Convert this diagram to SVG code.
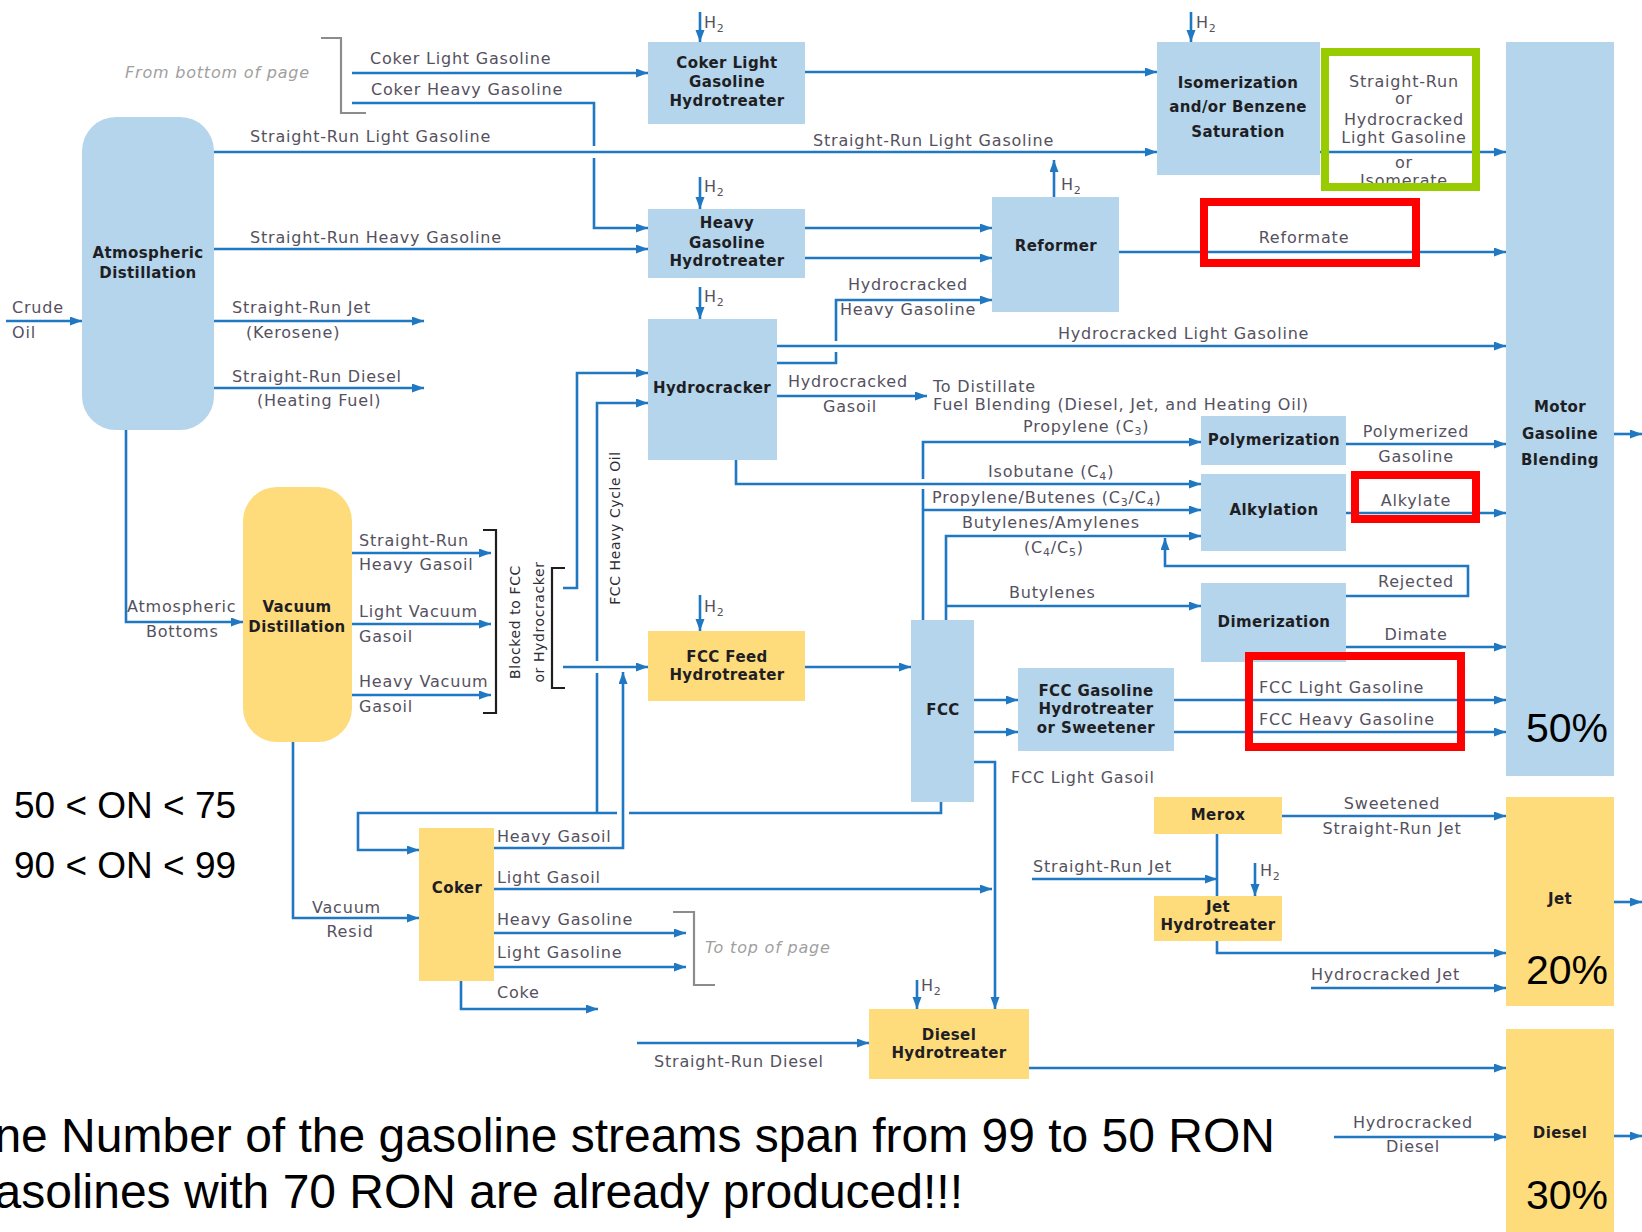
<svg xmlns="http://www.w3.org/2000/svg" width="1642" height="1232" viewBox="0 0 1642 1232">
  <style>
    .blue { fill: #b4d5eb; }
    .yel { fill: #fedb7b; }
    .ln { fill: none; stroke: #1f78c1; stroke-width: 2.6; }
    .arr { marker-end: url(#ah); }
    .nt { font-family: "DejaVu Sans", sans-serif; font-weight: bold; font-size: 15px; letter-spacing: 0.4px; fill: #1e1e24; text-anchor: middle; }
    .lb { font-family: "DejaVu Sans", sans-serif; font-size: 16px; letter-spacing: 0.8px; fill: #55515e; }
    .mid { text-anchor: middle; }
    .ref { font-family: "DejaVu Sans", sans-serif; font-style: italic; font-size: 16px; letter-spacing: 0.8px; fill: #a0a0a0; }
    .rot { font-family: "DejaVu Sans", sans-serif; font-size: 14px; letter-spacing: 0.6px; fill: #2e2e36; text-anchor: middle; }
    .big { font-family: "Liberation Sans", Arial, sans-serif; fill: #000; }
    .end { text-anchor: end; }
    .brk { fill: none; stroke: #1e1e1e; stroke-width: 2.2; }
    .gbrk { fill: none; stroke: #8c8c8c; stroke-width: 2.2; }
    .hl-red { fill: none; stroke: #ff0000; stroke-width: 8; }
    .hl-green { fill: none; stroke: #99cc00; stroke-width: 8; }
  </style>
  <defs>
    <marker id="ah" markerUnits="userSpaceOnUse" markerWidth="13" markerHeight="10" refX="12" refY="4.5" orient="auto">
      <path d="M0,0 L12,4.5 L0,9 Z" fill="#1f78c1"/>
    </marker>
  </defs>

  <rect width="1642" height="1232" fill="#ffffff"/>

  <!-- process streams -->
  <g id="connectors">
    <path class="ln arr" d="M352,73 H648"/>
    <path class="ln arr" d="M352,103 H594 V146 M594,158 V228 H648"/>
    <path class="ln arr" d="M214,152 H1157"/>
    <path class="ln arr" d="M214,249 H648"/>
    <path class="ln arr" d="M6,321 H82"/>
    <path class="ln arr" d="M214,321 H424"/>
    <path class="ln arr" d="M214,388 H424"/>
    <path class="ln arr" d="M126,430 V622 H243"/>
    <path class="ln arr" d="M805,72 H1157"/>
    <path class="ln arr" d="M805,228 H992"/>
    <path class="ln arr" d="M805,258 H992"/>
    <path class="ln arr" d="M1054,197 V160"/>
    <path class="ln arr" d="M1320,152 H1506"/>
    <path class="ln arr" d="M1119,252 H1506"/>
    <path class="ln arr" d="M777,363 H836 V352 M836,341 V300 H992"/>
    <path class="ln arr" d="M777,346 H1506"/>
    <path class="ln arr" d="M777,396 H927"/>
    <!-- hydrogen feeds -->
    <path class="ln arr" d="M700,12 V42"/>
    <path class="ln arr" d="M700,177 V209"/>
    <path class="ln arr" d="M700,287 V319"/>
    <path class="ln arr" d="M1191,12 V42"/>
    <path class="ln arr" d="M700,595 V631"/>
    <path class="ln arr" d="M917,980 V1009"/>
    <path class="ln arr" d="M1255,863 V896"/>
    <!-- light ends to polymerization / alkylation / dimerization -->
    <path class="ln arr" d="M736,460 V484 H1201"/>
    <path class="ln arr" d="M923,620 V489 M923,479 V442 H1201"/>
    <path class="ln arr" d="M923,510 H1201"/>
    <path class="ln arr" d="M946,620 V536 H1201"/>
    <path class="ln arr" d="M946,606 H1201"/>
    <path class="ln arr" d="M1346,444 H1506"/>
    <path class="ln arr" d="M1346,513 H1506"/>
    <path class="ln arr" d="M1346,596 H1468 V566 H1165 V538"/>
    <path class="ln arr" d="M1346,647 H1506"/>
    <!-- FCC section -->
    <path class="ln arr" d="M974,700 H1018"/>
    <path class="ln arr" d="M974,732 H1018"/>
    <path class="ln arr" d="M1174,700 H1506"/>
    <path class="ln arr" d="M1174,732 H1506"/>
    <path class="ln arr" d="M974,762 H995 V1009"/>
    <!-- vacuum gasoils -->
    <path class="ln arr" d="M352,553 H491"/>
    <path class="ln arr" d="M352,624 H491"/>
    <path class="ln arr" d="M352,695 H491"/>
    <path class="ln arr" d="M563,588 H577 V373 H648"/>
    <path class="ln arr" d="M563,667 H648"/>
    <path class="ln arr" d="M805,667 H911"/>
    <path class="ln arr" d="M941,802 V813 H629 M617,813 H358 V850 H419"/>
    <path class="ln arr" d="M597,813 V673 M597,661 V403 H648"/>
    <!-- coker products -->
    <path class="ln arr" d="M494,848 H623 V672"/>
    <path class="ln arr" d="M494,889 H992"/>
    <path class="ln arr" d="M494,933 H686"/>
    <path class="ln arr" d="M494,967 H686"/>
    <path class="ln arr" d="M461,981 V1009 H598"/>
    <path class="ln arr" d="M293,742 V918 H419"/>
    <!-- distillate section -->
    <path class="ln arr" d="M637,1043 H869"/>
    <path class="ln arr" d="M1029,1068 H1506"/>
    <path class="ln arr" d="M1282,816 H1506"/>
    <path class="ln" d="M1217,834 V896"/>
    <path class="ln arr" d="M1032,879 H1217"/>
    <path class="ln arr" d="M1217,941 V953 H1506"/>
    <path class="ln arr" d="M1311,988 H1506"/>
    <path class="ln arr" d="M1334,1137 H1506"/>
    <!-- product pools out -->
    <path class="ln arr" d="M1614,434 H1642"/>
    <path class="ln arr" d="M1614,902 H1642"/>
    <path class="ln arr" d="M1614,1136 H1642"/>
  </g>

  <!-- bracket marks -->
  <g id="brackets">
    <path class="gbrk" d="M321,38 H341 V113 H366"/>
    <path class="gbrk" d="M673,912 H694 V985 H715"/>
    <path class="brk" d="M483,530 H496 V713 H483"/>
    <path class="brk" d="M565,568 H552 V688 H565"/>
  </g>

  <!-- units -->
  <g id="atmospheric-distillation">
    <rect class="blue" x="82" y="117" width="132" height="313" rx="34"/>
    <text class="nt" x="148" y="258">Atmospheric</text>
    <text class="nt" x="148" y="278">Distillation</text>
  </g>
  <g id="vacuum-distillation">
    <rect class="yel" x="243" y="487" width="109" height="255" rx="34"/>
    <text class="nt" x="297" y="612">Vacuum</text>
    <text class="nt" x="297" y="632">Distillation</text>
  </g>
  <g id="coker-light-gasoline-hydrotreater">
    <rect class="blue" x="648" y="42" width="157" height="82"/>
    <text class="nt" x="727" y="68">Coker Light</text>
    <text class="nt" x="727" y="87">Gasoline</text>
    <text class="nt" x="727" y="106">Hydrotreater</text>
  </g>
  <g id="heavy-gasoline-hydrotreater">
    <rect class="blue" x="648" y="209" width="157" height="69"/>
    <text class="nt" x="727" y="228">Heavy</text>
    <text class="nt" x="727" y="248">Gasoline</text>
    <text class="nt" x="727" y="266">Hydrotreater</text>
  </g>
  <g id="hydrocracker">
    <rect class="blue" x="648" y="319" width="129" height="141"/>
    <text class="nt" x="712" y="393">Hydrocracker</text>
  </g>
  <g id="reformer">
    <rect class="blue" x="992" y="197" width="127" height="115"/>
    <text class="nt" x="1056" y="251">Reformer</text>
  </g>
  <g id="isomerization">
    <rect class="blue" x="1157" y="42" width="163" height="133"/>
    <text class="nt" x="1238" y="88">Isomerization</text>
    <text class="nt" x="1238" y="112">and/or Benzene</text>
    <text class="nt" x="1238" y="137">Saturation</text>
  </g>
  <g id="motor-gasoline-blending">
    <rect class="blue" x="1506" y="42" width="108" height="734"/>
    <text class="nt" x="1560" y="412">Motor</text>
    <text class="nt" x="1560" y="439">Gasoline</text>
    <text class="nt" x="1560" y="465">Blending</text>
    <text class="big" x="1526" y="742" font-size="41">50%</text>
  </g>
  <g id="polymerization">
    <rect class="blue" x="1201" y="416" width="145" height="49"/>
    <text class="nt" x="1274" y="445">Polymerization</text>
  </g>
  <g id="alkylation">
    <rect class="blue" x="1201" y="474" width="145" height="77"/>
    <text class="nt" x="1274" y="515">Alkylation</text>
  </g>
  <g id="dimerization">
    <rect class="blue" x="1201" y="583" width="145" height="79"/>
    <text class="nt" x="1274" y="627">Dimerization</text>
  </g>
  <g id="fcc-feed-hydrotreater">
    <rect class="yel" x="648" y="631" width="157" height="70"/>
    <text class="nt" x="727" y="662">FCC Feed</text>
    <text class="nt" x="727" y="680">Hydrotreater</text>
  </g>
  <g id="fcc">
    <rect class="blue" x="911" y="620" width="63" height="182"/>
    <text class="nt" x="943" y="715">FCC</text>
  </g>
  <g id="fcc-gasoline-hydrotreater">
    <rect class="blue" x="1018" y="668" width="156" height="83"/>
    <text class="nt" x="1096" y="696">FCC Gasoline</text>
    <text class="nt" x="1096" y="714">Hydrotreater</text>
    <text class="nt" x="1096" y="733">or Sweetener</text>
  </g>
  <g id="coker">
    <rect class="yel" x="419" y="828" width="75" height="153"/>
    <text class="nt" x="457" y="893">Coker</text>
  </g>
  <g id="merox">
    <rect class="yel" x="1154" y="797" width="128" height="37"/>
    <text class="nt" x="1218" y="820">Merox</text>
  </g>
  <g id="jet-hydrotreater">
    <rect class="yel" x="1154" y="896" width="128" height="45"/>
    <text class="nt" x="1218" y="912">Jet</text>
    <text class="nt" x="1218" y="930">Hydrotreater</text>
  </g>
  <g id="diesel-hydrotreater">
    <rect class="yel" x="869" y="1009" width="160" height="70"/>
    <text class="nt" x="949" y="1040">Diesel</text>
    <text class="nt" x="949" y="1058">Hydrotreater</text>
  </g>
  <g id="jet-pool">
    <rect class="yel" x="1506" y="797" width="108" height="209"/>
    <text class="nt" x="1560" y="904">Jet</text>
    <text class="big" x="1526" y="984" font-size="41">20%</text>
  </g>
  <g id="diesel-pool">
    <rect class="yel" x="1506" y="1029" width="108" height="210"/>
    <text class="nt" x="1560" y="1138">Diesel</text>
    <text class="big" x="1526" y="1209" font-size="41">30%</text>
  </g>

  <!-- stream names -->
  <g id="stream-labels">
    <text class="ref" x="125" y="78">From bottom of page</text>
    <text class="lb" x="370" y="64">Coker Light Gasoline</text>
    <text class="lb" x="371" y="95">Coker Heavy Gasoline</text>
    <text class="lb" x="250" y="142">Straight-Run Light Gasoline</text>
    <text class="lb" x="813" y="146">Straight-Run Light Gasoline</text>
    <text class="lb" x="250" y="243">Straight-Run Heavy Gasoline</text>
    <text class="lb" x="12" y="313">Crude</text>
    <text class="lb" x="12" y="338">Oil</text>
    <text class="lb" x="232" y="313">Straight-Run Jet</text>
    <text class="lb" x="246" y="338">(Kerosene)</text>
    <text class="lb" x="232" y="382">Straight-Run Diesel</text>
    <text class="lb" x="257" y="406">(Heating Fuel)</text>

    <text class="lb" x="704" y="28">H<tspan font-size="11" dy="4">2</tspan></text>
    <text class="lb" x="704" y="192">H<tspan font-size="11" dy="4">2</tspan></text>
    <text class="lb" x="704" y="302">H<tspan font-size="11" dy="4">2</tspan></text>
    <text class="lb" x="1061" y="190">H<tspan font-size="11" dy="4">2</tspan></text>
    <text class="lb" x="1196" y="28">H<tspan font-size="11" dy="4">2</tspan></text>
    <text class="lb" x="704" y="612">H<tspan font-size="11" dy="4">2</tspan></text>
    <text class="lb" x="921" y="991">H<tspan font-size="11" dy="4">2</tspan></text>
    <text class="lb" x="1260" y="876">H<tspan font-size="11" dy="4">2</tspan></text>

    <text class="lb" x="848" y="290">Hydrocracked</text>
    <text class="lb" x="840" y="315">Heavy Gasoline</text>
    <text class="lb" x="1058" y="339">Hydrocracked Light Gasoline</text>
    <text class="lb" x="788" y="387">Hydrocracked</text>
    <text class="lb mid" x="850" y="412">Gasoil</text>
    <text class="lb" x="933" y="392">To Distillate</text>
    <text class="lb" x="933" y="410">Fuel Blending (Diesel, Jet, and Heating Oil)</text>

    <text class="lb mid" x="1404" y="87">Straight-Run</text>
    <text class="lb mid" x="1404" y="104">or</text>
    <text class="lb mid" x="1404" y="125">Hydrocracked</text>
    <text class="lb mid" x="1404" y="143">Light Gasoline</text>
    <text class="lb mid" x="1404" y="168">or</text>
    <text class="lb mid" x="1404" y="186">Isomerate</text>
    <text class="lb mid" x="1304" y="243">Reformate</text>

    <text class="lb" x="1023" y="432">Propylene (C<tspan font-size="11" dy="3">3</tspan><tspan dy="-3">)</tspan></text>
    <text class="lb" x="988" y="477">Isobutane (C<tspan font-size="11" dy="3">4</tspan><tspan dy="-3">)</tspan></text>
    <text class="lb" x="932" y="503">Propylene/Butenes (C<tspan font-size="11" dy="3">3</tspan><tspan dy="-3">/C</tspan><tspan font-size="11" dy="3">4</tspan><tspan dy="-3">)</tspan></text>
    <text class="lb" x="962" y="528">Butylenes/Amylenes</text>
    <text class="lb" x="1024" y="553">(C<tspan font-size="11" dy="3">4</tspan><tspan dy="-3">/C</tspan><tspan font-size="11" dy="3">5</tspan><tspan dy="-3">)</tspan></text>
    <text class="lb" x="1009" y="598">Butylenes</text>

    <text class="lb mid" x="1416" y="437">Polymerized</text>
    <text class="lb mid" x="1416" y="462">Gasoline</text>
    <text class="lb mid" x="1416" y="506">Alkylate</text>
    <text class="lb mid" x="1416" y="587">Rejected</text>
    <text class="lb mid" x="1416" y="640">Dimate</text>
    <text class="lb" x="1259" y="693">FCC Light Gasoline</text>
    <text class="lb" x="1259" y="725">FCC Heavy Gasoline</text>
    <text class="lb" x="1011" y="783">FCC Light Gasoil</text>

    <text class="lb" x="127" y="612">Atmospheric</text>
    <text class="lb" x="146" y="637">Bottoms</text>
    <text class="lb" x="359" y="546">Straight-Run</text>
    <text class="lb" x="359" y="570">Heavy Gasoil</text>
    <text class="lb" x="359" y="617">Light Vacuum</text>
    <text class="lb" x="359" y="642">Gasoil</text>
    <text class="lb" x="359" y="687">Heavy Vacuum</text>
    <text class="lb" x="359" y="712">Gasoil</text>
    <text class="rot" transform="translate(520,622) rotate(-90)">Blocked to FCC</text>
    <text class="rot" transform="translate(544,622) rotate(-90)">or Hydrocracker</text>
    <text class="rot" transform="translate(620,528) rotate(-90)">FCC Heavy Cycle Oil</text>

    <text class="lb" x="497" y="842">Heavy Gasoil</text>
    <text class="lb" x="497" y="883">Light Gasoil</text>
    <text class="lb" x="497" y="925">Heavy Gasoline</text>
    <text class="lb" x="497" y="958">Light Gasoline</text>
    <text class="lb" x="497" y="998">Coke</text>
    <text class="lb" x="312" y="913">Vacuum</text>
    <text class="lb mid" x="350" y="937">Resid</text>
    <text class="ref" x="705" y="953">To top of page</text>
    <text class="lb" x="654" y="1067">Straight-Run Diesel</text>

    <text class="lb mid" x="1392" y="809">Sweetened</text>
    <text class="lb mid" x="1392" y="834">Straight-Run Jet</text>
    <text class="lb" x="1033" y="872">Straight-Run Jet</text>
    <text class="lb" x="1311" y="980">Hydrocracked Jet</text>
    <text class="lb mid" x="1413" y="1128">Hydrocracked</text>
    <text class="lb mid" x="1413" y="1152">Diesel</text>
  </g>

  <!-- highlight frames -->
  <g id="highlights">
    <rect class="hl-green" x="1325" y="52" width="151" height="135"/>
    <rect class="hl-red" x="1204" y="202" width="212" height="61"/>
    <rect class="hl-red" x="1355" y="475" width="121" height="44"/>
    <rect class="hl-red" x="1249" y="656" width="212" height="91"/>
  </g>

  <!-- notes -->
  <g id="notes">
    <text class="big" x="14" y="818" font-size="37">50 &lt; ON &lt; 75</text>
    <text class="big" x="14" y="878" font-size="37">90 &lt; ON &lt; 99</text>
    <text class="big end" x="1275" y="1152" font-size="48">ne Number of the gasoline streams span from 99 to 50 RON</text>
    <text class="big end" x="963" y="1208" font-size="48">asolines with 70 RON are already produced!!!</text>
  </g>
</svg>
